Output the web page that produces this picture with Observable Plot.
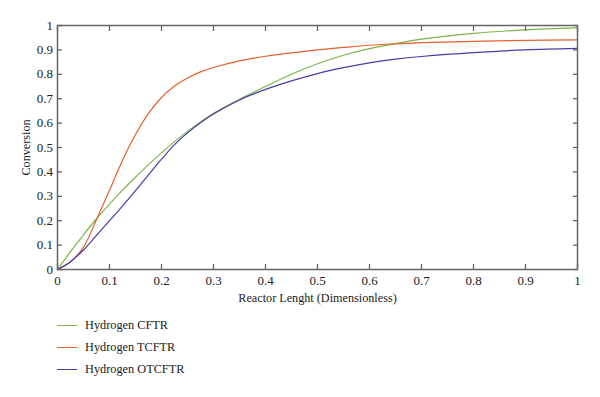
<!DOCTYPE html>
<html><head><meta charset="utf-8">
<script src="https://cdn.jsdelivr.net/npm/d3@7"></script>
<script src="https://cdn.jsdelivr.net/npm/@observablehq/plot@0.6"></script>
<style>
body{margin:0;background:#fff;font-family:"Liberation Serif",serif;}
#legend{margin-left:57px;margin-top:7px;}
.item{display:flex;align-items:center;height:21.7px;font-size:12.3px;color:#222}
.sw{width:20px;height:0;border-top:1.3px solid;margin-right:8px}
</style></head><body><div id="chart"></div><div id="legend"></div>
<script>
const xs      = [0, 0.025, 0.05, 0.075, 0.1, 0.125, 0.15, 0.175, 0.2, 0.225, 0.25, 0.275, 0.3, 0.35, 0.4, 0.45, 0.5, 0.55, 0.6, 0.65, 0.7, 0.8, 0.9, 1];
const cftr    = [0, 0.073, 0.142, 0.208, 0.268, 0.325, 0.378, 0.43, 0.478, 0.524, 0.566, 0.605, 0.64, 0.698, 0.75, 0.8, 0.843, 0.878, 0.905, 0.926, 0.944, 0.968, 0.982, 0.99];
const tcftr   = [0, 0.032, 0.092, 0.205, 0.325, 0.447, 0.553, 0.64, 0.705, 0.752, 0.785, 0.81, 0.828, 0.855, 0.874, 0.888, 0.9, 0.91, 0.919, 0.925, 0.93, 0.935, 0.939, 0.941];
const otcftr  = [0, 0.032, 0.08, 0.14, 0.2, 0.26, 0.323, 0.388, 0.452, 0.512, 0.56, 0.601, 0.637, 0.695, 0.738, 0.773, 0.803, 0.827, 0.847, 0.862, 0.873, 0.889, 0.9, 0.906];
const seriesNames  = ["Hydrogen CFTR", "Hydrogen TCFTR", "Hydrogen OTCFTR"];
const seriesColors = ["#7ab648", "#e5602b", "#4a3aa8"];
const tickValues = [0, 0.1, 0.2, 0.3, 0.4, 0.5, 0.6, 0.7, 0.8, 0.9, 1];
const tickLabels = ["0", "0.1", "0.2", "0.3", "0.4", "0.5", "0.6", "0.7", "0.8", "0.9", "1"];

const seriesValues = [cftr, tcftr, otcftr];
const data = [];
seriesValues.forEach((vals, s) => vals.forEach((v, i) => data.push({x: xs[i], y: v, series: seriesNames[s]})));
const fmt = d => tickLabels[tickValues.indexOf(d)] ?? "";

const chart = Plot.plot({
  width: 600, height: 308,
  marginLeft: 57, marginRight: 23, marginTop: 25, marginBottom: 39,
  style: {fontFamily: "Liberation Serif, serif", fontSize: "13px", color: "#222", background: "#fff"},
  x: {domain: [0, 1]},
  y: {domain: [0, 1]},
  color: {domain: seriesNames, range: seriesColors},
  marks: [
    Plot.line(data, {x: "x", y: "y", stroke: "series", curve: "catmull-rom", strokeWidth: 1.2}),
    Plot.frame({stroke: "#666", strokeWidth: 1.5}),
    Plot.axisX({ticks: tickValues, tickFormat: fmt, tickSize: -5, tickPadding: 11, stroke: "#666", strokeWidth: 1.3,
      label: "Reactor Lenght (Dimensionless)", labelAnchor: "center", labelArrow: false, labelOffset: 32, fill: "#222"}),
    Plot.axisY({ticks: tickValues, tickFormat: fmt, tickSize: -5, tickPadding: 9.5, stroke: "#666", strokeWidth: 1.3,
      label: "Conversion", labelAnchor: "center", labelArrow: false, labelOffset: 36, fill: "#222"}),
    Plot.axisX({anchor: "top", ticks: tickValues, tickFormat: () => "", tickSize: -5, stroke: "#666", strokeWidth: 1.3, label: null}),
    Plot.axisY({anchor: "right", ticks: tickValues, tickFormat: () => "", tickSize: -5, stroke: "#666", strokeWidth: 1.3, label: null})
  ]
});
d3.select(chart).selectAll("text").style("font-family", "'Liberation Serif', serif").style("font-size", "13px");
d3.select(chart).selectAll('g[aria-label="x-axis label"] text, g[aria-label="y-axis label"] text').style("font-size", "12.2px");
document.getElementById("chart").appendChild(chart);

const legend = document.getElementById("legend");
seriesNames.forEach((name, i) => {
  const item = document.createElement("div");
  item.className = "item";
  const sw = document.createElement("span");
  sw.className = "sw";
  sw.style.borderTopColor = seriesColors[i];
  const t = document.createElement("span");
  t.textContent = name;
  item.appendChild(sw); item.appendChild(t);
  legend.appendChild(item);
});
</script></body></html>
